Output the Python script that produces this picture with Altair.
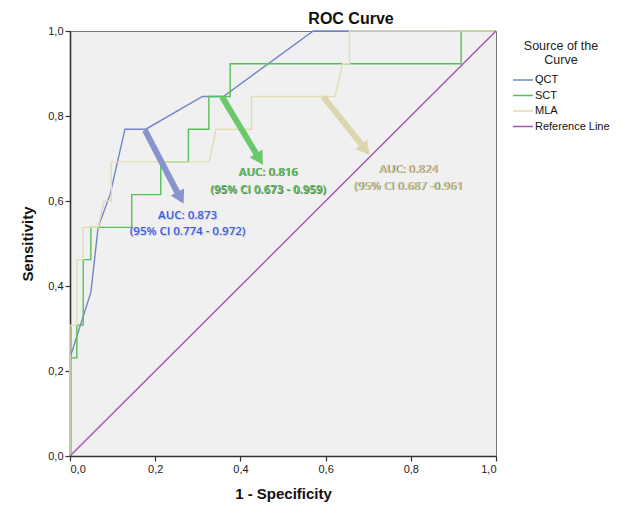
import altair as alt
import pandas as pd

# ---- data ----
qct_x = [0.0, 0.0, 0.049, 0.066, 0.094, 0.129, 0.178, 0.311, 0.36, 0.571, 1.0]
qct_y = [0.0, 0.231, 0.385, 0.538, 0.615, 0.769, 0.769, 0.846, 0.846, 1.0, 1.0]

sct_x = [0.0, 0.0, 0.016, 0.016, 0.031, 0.031, 0.049, 0.049, 0.145, 0.145, 0.213, 0.213,
         0.278, 0.278, 0.326, 0.326, 0.376, 0.376, 0.918, 0.918, 1.0]
sct_y = [0.0, 0.231, 0.231, 0.308, 0.308, 0.462, 0.462, 0.538, 0.538, 0.615, 0.615, 0.692,
         0.692, 0.769, 0.769, 0.846, 0.846, 0.923, 0.923, 1.0, 1.0]

mla_x = [0.0, 0.0, 0.016, 0.016, 0.031, 0.031, 0.066, 0.08, 0.097, 0.097, 0.327, 0.343,
         0.426, 0.426, 0.622, 0.64, 0.656, 0.656, 1.0]
mla_y = [0.0, 0.308, 0.308, 0.462, 0.462, 0.538, 0.538, 0.6, 0.6, 0.692, 0.692, 0.769,
         0.769, 0.846, 0.846, 0.923, 0.923, 1.0, 1.0]

ref_x = [0.0, 1.0]
ref_y = [0.0, 1.0]

series_names = ["QCT", "SCT", "MLA", "Reference Line"]
series_colors = ["#7384c8", "#55c055", "#e4ddb4", "#a653b3"]

# annotation arrows (start on curve, end of shaft, head centre)
arrow_names = ["QCT", "SCT", "MLA"]
arrow_colors = ["#8795cc", "#6cc86c", "#dcd6ae"]
arrow_x0 = [0.176, 0.357, 0.595]
arrow_y0 = [0.767, 0.845, 0.845]
arrow_x1 = [0.252, 0.438, 0.684]
arrow_y1 = [0.620, 0.710, 0.733]
head_x = [0.257, 0.442, 0.690]
head_y = [0.612, 0.703, 0.725]
head_angle = [152, 149, 141]

label_x = [0.276, 0.465, 0.794]
label_line1 = ["AUC: 0.873", "AUC: 0.816", "AUC: 0.824"]
label_line2 = ["(95% CI 0.774 - 0.972)", "(95% CI 0.673 - 0.959)", "(95% CI 0.687 -0.961"]
label_y1 = [0.565, 0.667, 0.674]
label_y2 = [0.526, 0.626, 0.634]
label_fill = ["#3a5ce8", "#5cc25c", "#d6cd96"]
label_shadow = ["#b8bfd8", "#2a4a2a", "#4a4630"]

# ---- tables ----
rows = []
for name, xs, ys in [("QCT", qct_x, qct_y), ("SCT", sct_x, sct_y),
                     ("MLA", mla_x, mla_y), ("Reference Line", ref_x, ref_y)]:
    for i, (a, b) in enumerate(zip(xs, ys)):
        rows.append({"fpr": a, "tpr": b, "curve": name, "order": i})
curves = pd.DataFrame(rows)

arrows = pd.DataFrame({
    "name": arrow_names * 2,
    "x": arrow_x0 + arrow_x1,
    "y": arrow_y0 + arrow_y1,
    "k": [0] * 3 + [1] * 3,
    "color": arrow_colors * 2,
})
heads = pd.DataFrame({"x": head_x, "y": head_y, "angle": head_angle, "color": arrow_colors})
labels = pd.DataFrame({
    "x": label_x * 2,
    "y": label_y1 + label_y2,
    "text": label_line1 + label_line2,
    "fill": label_fill * 2,
    "shadow": label_shadow * 2,
})

fmt = "replace(format(datum.value, '.1f'), '.', ',')"
ticks = [0, 0.2, 0.4, 0.6, 0.8, 1.0]

xs = alt.Scale(domain=[0, 1], nice=False)
ys = alt.Scale(domain=[0, 1], nice=False)

base_x = alt.X("fpr:Q", scale=xs, title="1 - Specificity",
               axis=alt.Axis(values=ticks, labelExpr=fmt, grid=False, titlePadding=12))
base_y = alt.Y("tpr:Q", scale=ys, title="Sensitivity",
               axis=alt.Axis(values=ticks, labelExpr=fmt, grid=False, titlePadding=12))

lines = alt.Chart(curves).mark_line(strokeWidth=1.4, clip=False).encode(
    x=base_x,
    y=base_y,
    color=alt.Color("curve:N",
                    scale=alt.Scale(domain=series_names, range=series_colors),
                    sort=series_names,
                    legend=alt.Legend(title=["Source of the", "Curve"])),
    order="order:Q",
    detail="curve:N",
)

shafts = alt.Chart(arrows).mark_line(strokeWidth=6, strokeCap="butt").encode(
    x=alt.X("x:Q", scale=xs),
    y=alt.Y("y:Q", scale=ys),
    detail="name:N",
    order="k:Q",
    color=alt.Color("color:N", scale=None),
)

arrowheads = alt.Chart(heads).mark_point(shape="triangle", filled=True, size=230, opacity=1).encode(
    x=alt.X("x:Q", scale=xs),
    y=alt.Y("y:Q", scale=ys),
    angle=alt.Angle("angle:Q", scale=None),
    color=alt.Color("color:N", scale=None),
)

text_shadow = alt.Chart(labels).mark_text(font="Open Sans", fontSize=11.5, fontWeight=600,
                                          dx=0.8, dy=0.8, opacity=0.7).encode(
    x=alt.X("x:Q", scale=xs),
    y=alt.Y("y:Q", scale=ys),
    text="text:N",
    color=alt.Color("shadow:N", scale=None),
)

texts = alt.Chart(labels).mark_text(font="Open Sans", fontSize=11.5, fontWeight=600).encode(
    x=alt.X("x:Q", scale=xs),
    y=alt.Y("y:Q", scale=ys),
    text="text:N",
    color=alt.Color("fill:N", scale=None),
)

chart = alt.layer(lines, shafts, arrowheads, text_shadow, texts).properties(
    width=426, height=425,
    autosize=alt.AutoSizeParams(type="none"),
    padding={"left": 62, "top": 23, "right": 131, "bottom": 51},
    title=alt.TitleParams("ROC Curve", anchor="middle", frame="group", dx=68, dy=7,
                          fontSize=16, fontWeight="bold", font="Liberation Sans",
                          color="#111", offset=5),
).configure_view(
    fill="#f0f0f0", stroke="#777", strokeWidth=1
).configure_axis(
    domainColor="#333", domainWidth=1.6, tickColor="#333", tickSize=5, tickWidth=1.2,
    labelFont="Liberation Sans", labelFontSize=11, labelColor="#222", labelPadding=2,
    titleFont="Liberation Sans", titleFontSize=15, titleFontWeight="bold", titleColor="#111",
).configure_legend(
    orient="none", legendX=442, legendY=9,
    titleFont="Liberation Sans", titleFontSize=12.5, titleFontWeight="normal", titleColor="#222",
    titleAnchor="middle", titleAlign="center", titleLineHeight=14, titlePadding=7,
    labelFont="Liberation Sans", labelFontSize=11, labelColor="#111", labelOffset=1,
    symbolType="stroke", symbolSize=400, symbolStrokeWidth=1.5, clipHeight=13, rowPadding=2.5,
)

chart.save("out.html", embed_options={"renderer": "svg", "actions": False})
